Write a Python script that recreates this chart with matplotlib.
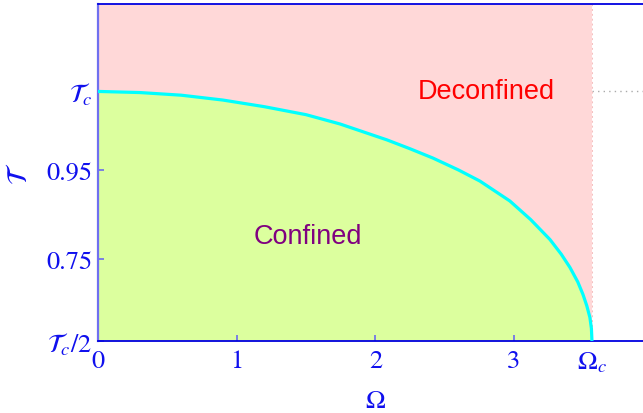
import numpy as np
import matplotlib
matplotlib.use("Agg")
import matplotlib.pyplot as plt

plt.rcParams['mathtext.fontset'] = 'stix'
plt.rcParams['font.family'] = 'STIXGeneral'

# phase boundary
T_c = 1.1275
Omega_c = 3.562
omega = [0.0, 0.3, 0.6, 0.901, 1.2, 1.5, 1.745, 2.084, 2.25, 2.415, 2.6, 2.754,
         2.970, 3.12, 3.259, 3.34, 3.403, 3.46, 3.497, 3.525, 3.547, 3.558, 3.562]
temp = [1.1275, 1.125, 1.119, 1.108, 1.093, 1.075, 1.054, 1.018, 0.998, 0.977, 0.950, 0.925,
        0.880, 0.838, 0.793, 0.760, 0.730, 0.697, 0.669, 0.643, 0.617, 0.592, 0.5638]

x_ticks = [0, 1, 2, 3, Omega_c]
x_labels = ['0', '1', '2', '3', r'$\Omega_c$']
y_ticks = [T_c / 2, 0.75, 0.95, T_c]
y_labels = [r'$\mathcal{T}_c/2$', '0.75', '0.95', r'$\mathcal{T}_c$']

blue = '#1010ee'

fig = plt.figure(figsize=(6.43, 4.14), dpi=100)
ax = fig.add_axes([98 / 643, 72 / 414, 545 / 643, 337 / 414])

ax.set_xlim(0, 3.93)
ax.set_ylim(T_c / 2, 1.325)

# regions
ax.axvspan(0, Omega_c, color='#ffd8d8', lw=0, zorder=0)
ax.fill_between(omega, T_c / 2, temp, color='#dcff9e', lw=0, zorder=1)
ax.plot(omega, temp, color='#00ffff', lw=2.3, zorder=3, solid_capstyle='butt',
        solid_joinstyle='round')

# dotted guides
ax.plot([Omega_c, 3.93], [T_c, T_c], ls=(0, (1, 3)), color='#aaaaaa', lw=1.0, zorder=2)
ax.plot([Omega_c, 3.93], [T_c / 2, T_c / 2], ls=(0, (1, 3)), color='#aaaaaa', lw=1.0, zorder=2)
ax.axvline(Omega_c, ls=(0, (2, 3)), color='#f4c0c0', lw=0.7, zorder=2)

ax.text(2.8, T_c, 'Deconfined', color='#ff0000', fontsize=19.5,
        family='Liberation Sans', ha='center', va='center')
ax.text(1.51, 0.80, 'Confined', color='#800080', fontsize=19.5,
        family='Liberation Sans', ha='center', va='center')

ax.set_xticks(x_ticks)
ax.set_xticklabels(x_labels)
ax.set_yticks(y_ticks)
ax.set_yticklabels(y_labels)
ax.tick_params(direction='in', length=4.5, width=1.2, color='#6a6aee',
               labelcolor=blue, labelsize=19)
ax.tick_params(axis='x', pad=6)
ax.tick_params(axis='y', pad=4)

ax.set_xlabel(r'$\Omega$', color=blue, fontsize=19)
ax.xaxis.set_label_coords(2 / 3.93, -0.143)
ax.set_ylabel(r'$\mathcal{T}$', color=blue, fontsize=20)
ax.yaxis.set_label_coords(-0.12, 0.5)

ax.spines['right'].set_visible(False)
for s in ['top', 'bottom']:
    ax.spines[s].set_color('#0000e0')
    ax.spines[s].set_linewidth(1.3)
ax.spines['left'].set_color('#7070f0')
ax.spines['left'].set_linewidth(1.6)

fig.savefig('out.png', dpi=100)
